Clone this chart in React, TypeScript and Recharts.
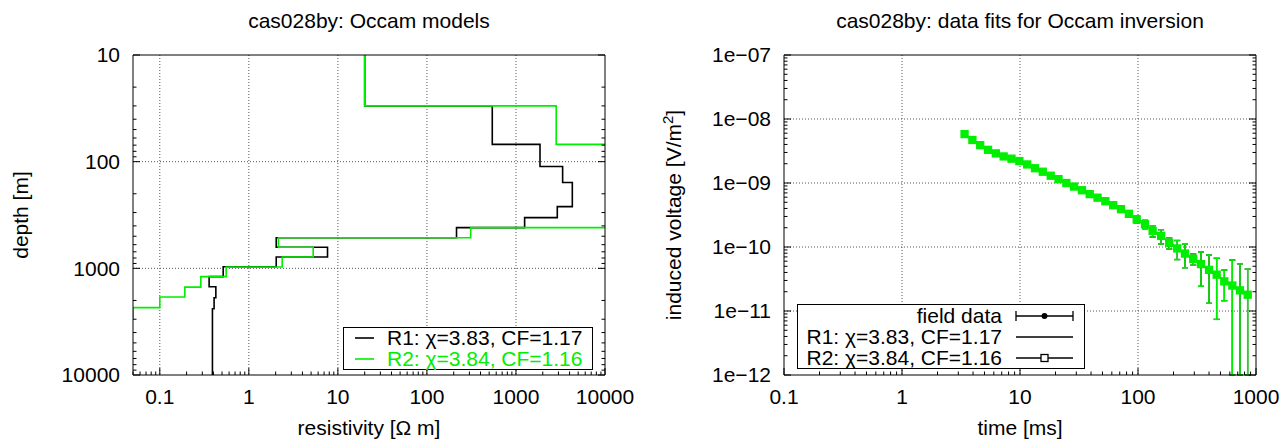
import React from 'react';
import { LineChart, Line, XAxis, YAxis, CartesianGrid, ErrorBar, Legend } from 'recharts';

const FONT = '"Liberation Sans", Arial, Helvetica, sans-serif';
const FS = 21;
const GREEN = '#00ee00';

// ---- Occam models: layer resistivity [ohm m] and layer bottom depth [m]
const r1Rho = [20, 542, 1862, 3343, 4295, 2912, 1251, 215, 2.03, 7.65, 2.03, 0.515, 0.358, 0.426, 0.407, 0.39];
const r1Bottom = [30, 68.8, 111, 157, 264, 335, 415, 516, 635, 783, 965, 1197, 1489, 1884, 2390, 10000];
const r2Rho = [20, 2830, 20000, 310, 2.15, 5.28, 2.37, 0.556, 0.289, 0.191, 0.1, 0.05, 0.02];
const r2Bottom = [30, 68.8, 415, 516, 635, 783, 972, 1197, 1500, 1857, 2336, 2917, 10000];

const rhoTicks = [0.1, 1, 10, 100, 1000, 10000];
const rhoLabels = ['0.1', '1', '10', '100', '1000', '10000'];
const depthTicks = [10, 100, 1000, 10000];
const depthLabels = ['10', '100', '1000', '10000'];

// ---- data fits: gate times [ms], voltages [V/m^2], relative errors
const times = [3.39, 3.95, 4.6, 5.36, 6.24, 7.27, 8.47, 9.87, 11.5, 13.4, 15.6, 18.2, 21.2, 24.7, 28.7, 33.5, 39, 45.4, 52.9, 61.6, 71.8, 83.7, 97.5, 114.6, 133, 157, 184, 215, 250, 294, 342, 400, 464, 539, 630, 731, 850];
const fieldV = [5.8e-9, 4.7e-9, 3.9e-9, 3.3e-9, 2.9e-9, 2.6e-9, 2.4e-9, 2.2e-9, 1.95e-9, 1.7e-9, 1.5e-9, 1.3e-9, 1.15e-9, 1.0e-9, 8.8e-10, 7.7e-10, 6.7e-10, 5.9e-10, 5.2e-10, 4.5e-10, 3.9e-10, 3.3e-10, 2.7e-10, 2.27e-10, 1.79e-10, 1.49e-10, 1.16e-10, 9.5e-11, 7.9e-11, 6.5e-11, 5.4e-11, 4.4e-11, 3.7e-11, 2.9e-11, 2.5e-11, 2.1e-11, 1.8e-11];
const fieldErr = [0.08, 0.06, 0.05, 0.05, 0.05, 0.05, 0.05, 0.05, 0.05, 0.05, 0.05, 0.05, 0.05, 0.05, 0.05, 0.06, 0.06, 0.07, 0.08, 0.08, 0.1, 0.1, 0.12, 0.15, 0.2, 0.25, 0.2, 0.33, 0.4, 0.2, 0.55, 0.7, 0.8, 0.5, 1.5, 1.6, 1.5];
const r1V = [5.8e-9, 4.7e-9, 3.9e-9, 3.3e-9, 2.9e-9, 2.6e-9, 2.4e-9, 2.2e-9, 1.95e-9, 1.7e-9, 1.5e-9, 1.3e-9, 1.15e-9, 1.0e-9, 8.8e-10, 7.7e-10, 6.7e-10, 5.9e-10, 5.2e-10, 4.5e-10, 3.9e-10, 3.3e-10, 2.7e-10, 2.25e-10, 1.8e-10, 1.48e-10, 1.18e-10, 9.6e-11, 7.9e-11, 6.5e-11, 5.4e-11, 4.4e-11, 3.6e-11, 3.0e-11, 2.5e-11, 2.1e-11, 1.8e-11];
const r2V = [5.8e-9, 4.7e-9, 3.9e-9, 3.3e-9, 2.9e-9, 2.6e-9, 2.4e-9, 2.2e-9, 1.95e-9, 1.7e-9, 1.5e-9, 1.3e-9, 1.15e-9, 1.0e-9, 8.8e-10, 7.7e-10, 6.7e-10, 5.9e-10, 5.2e-10, 4.5e-10, 3.9e-10, 3.3e-10, 2.7e-10, 2.27e-10, 1.79e-10, 1.49e-10, 1.16e-10, 9.5e-11, 7.9e-11, 6.5e-11, 5.4e-11, 4.4e-11, 3.7e-11, 2.9e-11, 2.5e-11, 2.1e-11, 1.8e-11];

const timeTicks = [0.1, 1, 10, 100, 1000];
const timeLabels = ['0.1', '1', '10', '100', '1000'];
const voltTicks = [1e-12, 1e-11, 1e-10, 1e-9, 1e-8, 1e-7];
const voltLabels = ['1e\u221212', '1e\u221211', '1e\u221210', '1e\u221209', '1e\u221208', '1e\u221207'];

// staircase vertices for a layered model
const stepPoints = (rho: number[], bottom: number[], top: number) => {
  const pts: { rho: number; depth: number }[] = [];
  let z = top;
  rho.forEach((r, i) => {
    pts.push({ rho: r, depth: z });
    pts.push({ rho: r, depth: bottom[i] });
    z = bottom[i];
  });
  return pts;
};

// major + minor (2..9) log ticks inside [lo, hi]
const logTicks = (majors: number[], lo: number, hi: number) => {
  const out: number[] = [];
  majors.concat([majors[majors.length - 1] * 10]).forEach((m) => {
    const d = m / 10;
    for (let k = 1; k < 10; k++) {
      const v = +(d * k).toPrecision(3);
      if (v >= lo * 0.999 && v <= hi * 1.001 && !out.includes(v)) out.push(v);
    }
  });
  return out.sort((a, b) => a - b);
};

const tickRenderer = (side: 'bottom' | 'left' | 'top' | 'right', majors: number[], labels: string[]) => {
  return (props: any) => {
    const { x, y, payload } = props;
    const v = payload.value;
    const idx = majors.findIndex((m) => Math.abs(m - v) <= m * 1e-6);
    const len = idx >= 0 ? 7 : 3.5;
    let line;
    if (side === 'bottom') line = <line x1={x} y1={y} x2={x} y2={y - len} />;
    else if (side === 'top') line = <line x1={x} y1={y} x2={x} y2={y + len} />;
    else if (side === 'left') line = <line x1={x} y1={y} x2={x + len} y2={y} />;
    else line = <line x1={x} y1={y} x2={x - len} y2={y} />;
    return (
      <g>
        <g stroke="#000" strokeWidth={1}>{line}</g>
        {idx >= 0 && side === 'bottom' && (
          <text x={x} y={y + 22} dy="0.35em" textAnchor="middle" fontSize={FS} fontFamily={FONT} fill="#000">
            {labels[idx]}
          </text>
        )}
        {idx >= 0 && side === 'left' && (
          <text x={x - 13} y={y} dy="0.35em" textAnchor="end" fontSize={FS} fontFamily={FONT} fill="#000">
            {labels[idx]}
          </text>
        )}
      </g>
    );
  };
};

const SquareDot = (p: any) => (
  <rect key={p.key} x={p.cx - 3.5} y={p.cy - 3.5} width={7} height={7} fill={GREEN} stroke={GREEN} strokeWidth={1.3} />
);

const textStyle: React.CSSProperties = { fontFamily: FONT, fontSize: FS, color: '#000', whiteSpace: 'nowrap' };

const ModelLegend = () => (
  <div style={{ ...textStyle, width: 250, height: 43, boxSizing: 'border-box', border: '1px solid #000', background: '#fff', paddingTop: 0 }}>
    {[
      { label: 'R1: \u03c7=3.83, CF=1.17', color: '#000' },
      { label: 'R2: \u03c7=3.84, CF=1.16', color: GREEN },
    ].map((r) => (
      <div key={r.label} style={{ display: 'flex', alignItems: 'center', height: 20.5, color: r.color }}>
        <svg width={43} height={20}>
          <line x1={11} x2={30} y1={10} y2={10} stroke={r.color} strokeWidth={1.6} />
        </svg>
        <span>{r.label}</span>
      </div>
    ))}
  </div>
);

const FitLegend = () => (
  <div style={{ ...textStyle, width: 288, height: 65, boxSizing: 'border-box', border: '1px solid #000', background: '#fff' }}>
    {['field data', 'R1: \u03c7=3.83, CF=1.17', 'R2: \u03c7=3.84, CF=1.16'].map((label, i) => (
      <div key={label} style={{ display: 'flex', alignItems: 'center', height: 21.3 }}>
        <span style={{ width: 204, textAlign: 'right' }}>{label}</span>
        <svg width={80} height={20}>
          <line x1={14} x2={71} y1={10} y2={10} stroke="#000" strokeWidth={1.3} />
          {i === 0 && (
            <g stroke="#000" strokeWidth={1.3}>
              <line x1={14} x2={14} y1={5} y2={15} />
              <line x1={71} x2={71} y1={5} y2={15} />
              <circle cx={42.5} cy={10} r={2.3} fill="#000" />
            </g>
          )}
          {i === 2 && <rect x={39} y={6.5} width={7} height={7} fill="#fff" stroke="#000" strokeWidth={1.3} />}
        </svg>
      </div>
    ))}
  </div>
);

const axisText = { fontSize: FS, fontFamily: FONT, fill: '#000' };

export default function App() {
  const r1Points = stepPoints(r1Rho, r1Bottom, 10);
  const r2Points = stepPoints(r2Rho, r2Bottom, 10);
  const rhoAll = logTicks(rhoTicks, 0.05, 10000);
  const depthAll = logTicks(depthTicks, 10, 10000);
  const timeAll = logTicks(timeTicks, 0.1, 1000);
  const voltAll = logTicks(voltTicks, 1e-12, 1e-7);

  // error bars stop at the lower plot edge (1e-12)
  const fitRows = times.map((t, i) => {
    const e = fieldV[i] * fieldErr[i];
    return {
      t,
      field: fieldV[i],
      r1: r1V[i],
      r2: r2V[i],
      err: [Math.min(e, fieldV[i] - 1e-12), e],
    };
  });

  return (
    <div style={{ position: 'absolute', left: 0, top: 0, width: 1284, height: 442, background: '#fff', fontFamily: FONT }}>
      <div style={{ ...textStyle, position: 'absolute', left: 69, width: 600, top: 9, textAlign: 'center' }}>cas028by: Occam models</div>
      <div style={{ ...textStyle, position: 'absolute', left: 720, width: 600, top: 9, textAlign: 'center' }}>
        cas028by: data fits for Occam inversion
      </div>

      <div style={{ position: 'absolute', left: 0, top: 0 }}>
        <LineChart width={642} height={442} margin={{ top: 54, right: 36, bottom: 0, left: 0 }}>
          <CartesianGrid stroke="#555" strokeDasharray="1 2" verticalValues={[0.1, 1, 10, 100, 1000]} horizontalValues={[100, 1000]} />
          <XAxis
            dataKey="rho"
            type="number"
            scale="log"
            domain={[0.05, 10000]}
            allowDataOverflow
            ticks={rhoAll}
            interval={0}
            tickSize={0}
            tickMargin={0}
            height={67}
            axisLine={{ stroke: '#000' }}
            tick={tickRenderer('bottom', rhoTicks, rhoLabels)}
            label={{
              content: () => (
                <text x={369} y={435} textAnchor="middle" {...axisText}>
                  resistivity [Ω m]
                </text>
              ),
            }}
          />
          <XAxis
            xAxisId="top"
            orientation="top"
            type="number"
            scale="log"
            domain={[0.05, 10000]}
            allowDataOverflow
            ticks={rhoAll}
            interval={0}
            tickSize={0}
            tickMargin={0}
            height={1}
            axisLine={{ stroke: '#000' }}
            tick={tickRenderer('top', rhoTicks, rhoLabels)}
          />
          <YAxis
            type="number"
            scale="log"
            domain={[10, 10000]}
            reversed
            allowDataOverflow
            ticks={depthAll}
            interval={0}
            tickSize={0}
            tickMargin={0}
            width={133}
            axisLine={{ stroke: '#000' }}
            tick={tickRenderer('left', depthTicks, depthLabels)}
            label={{
              content: () => (
                <text x={28} y={215} transform="rotate(-90 28 215)" textAnchor="middle" {...axisText}>
                  depth [m]
                </text>
              ),
            }}
          />
          <YAxis
            yAxisId="right"
            orientation="right"
            type="number"
            scale="log"
            domain={[10, 10000]}
            reversed
            allowDataOverflow
            ticks={depthAll}
            interval={0}
            tickSize={0}
            tickMargin={0}
            width={1}
            axisLine={{ stroke: '#000' }}
            tick={tickRenderer('right', depthTicks, depthLabels)}
          />
          <Line data={r1Points} dataKey="depth" name="R1" stroke="#000" strokeWidth={1.6} dot={false} isAnimationActive={false} />
          <Line data={r2Points} dataKey="depth" name="R2" stroke={GREEN} strokeWidth={1.6} dot={false} isAnimationActive={false} />
          <Legend
            layout="vertical"
            align="center"
            verticalAlign="middle"
            content={() => <ModelLegend />}
            wrapperStyle={{ position: 'absolute', left: 343, top: 327, width: 250, height: 43 }}
          />
        </LineChart>
      </div>

      <div style={{ position: 'absolute', left: 642, top: 0 }}>
        <LineChart width={642} height={442} data={fitRows} margin={{ top: 54, right: 27, bottom: 0, left: 0 }}>
          <CartesianGrid stroke="#555" strokeDasharray="1 2" verticalValues={[1, 10, 100]} horizontalValues={[1e-11, 1e-10, 1e-9, 1e-8]} />
          <XAxis
            dataKey="t"
            type="number"
            scale="log"
            domain={[0.1, 1000]}
            allowDataOverflow
            ticks={timeAll}
            interval={0}
            tickSize={0}
            tickMargin={0}
            height={67}
            axisLine={{ stroke: '#000' }}
            tick={tickRenderer('bottom', timeTicks, timeLabels)}
            label={{
              content: () => (
                <text x={378} y={435} textAnchor="middle" {...axisText}>
                  time [ms]
                </text>
              ),
            }}
          />
          <XAxis
            xAxisId="top"
            orientation="top"
            type="number"
            scale="log"
            domain={[0.1, 1000]}
            allowDataOverflow
            ticks={timeAll}
            interval={0}
            tickSize={0}
            tickMargin={0}
            height={1}
            axisLine={{ stroke: '#000' }}
            tick={tickRenderer('top', timeTicks, timeLabels)}
          />
          <YAxis
            type="number"
            scale="log"
            domain={[1e-12, 1e-7]}
            allowDataOverflow
            ticks={voltAll}
            interval={0}
            tickSize={0}
            tickMargin={0}
            width={142}
            axisLine={{ stroke: '#000' }}
            tick={tickRenderer('left', voltTicks, voltLabels)}
            label={{
              content: () => (
                <text x={39} y={215} transform="rotate(-90 39 215)" textAnchor="middle" {...axisText}>
                  induced voltage [V/m
                  <tspan baselineShift="super" fontSize={15}>2</tspan>]
                </text>
              ),
            }}
          />
          <YAxis
            yAxisId="right"
            orientation="right"
            type="number"
            scale="log"
            domain={[1e-12, 1e-7]}
            allowDataOverflow
            ticks={voltAll}
            interval={0}
            tickSize={0}
            tickMargin={0}
            width={1}
            axisLine={{ stroke: '#000' }}
            tick={tickRenderer('right', voltTicks, voltLabels)}
          />
          <Line dataKey="field" name="field data" stroke="none" dot={{ r: 1.5, fill: '#000', stroke: '#000' }} isAnimationActive={false}>
            <ErrorBar dataKey="err" direction="y" width={3} stroke="#000" strokeWidth={1.3} />
          </Line>
          <Line dataKey="r1" name="R1" stroke="#000" strokeWidth={1.5} dot={false} isAnimationActive={false} />
          <Line dataKey="r2" name="R2" stroke={GREEN} strokeWidth={1.5} dot={SquareDot} isAnimationActive={false}>
            <ErrorBar dataKey="err" direction="y" width={3} stroke={GREEN} strokeWidth={1.5} />
          </Line>
          <Legend
            layout="vertical"
            align="center"
            verticalAlign="middle"
            content={() => <FitLegend />}
            wrapperStyle={{ position: 'absolute', left: 155, top: 304, width: 288, height: 65 }}
          />
        </LineChart>
      </div>
    </div>
  );
}
